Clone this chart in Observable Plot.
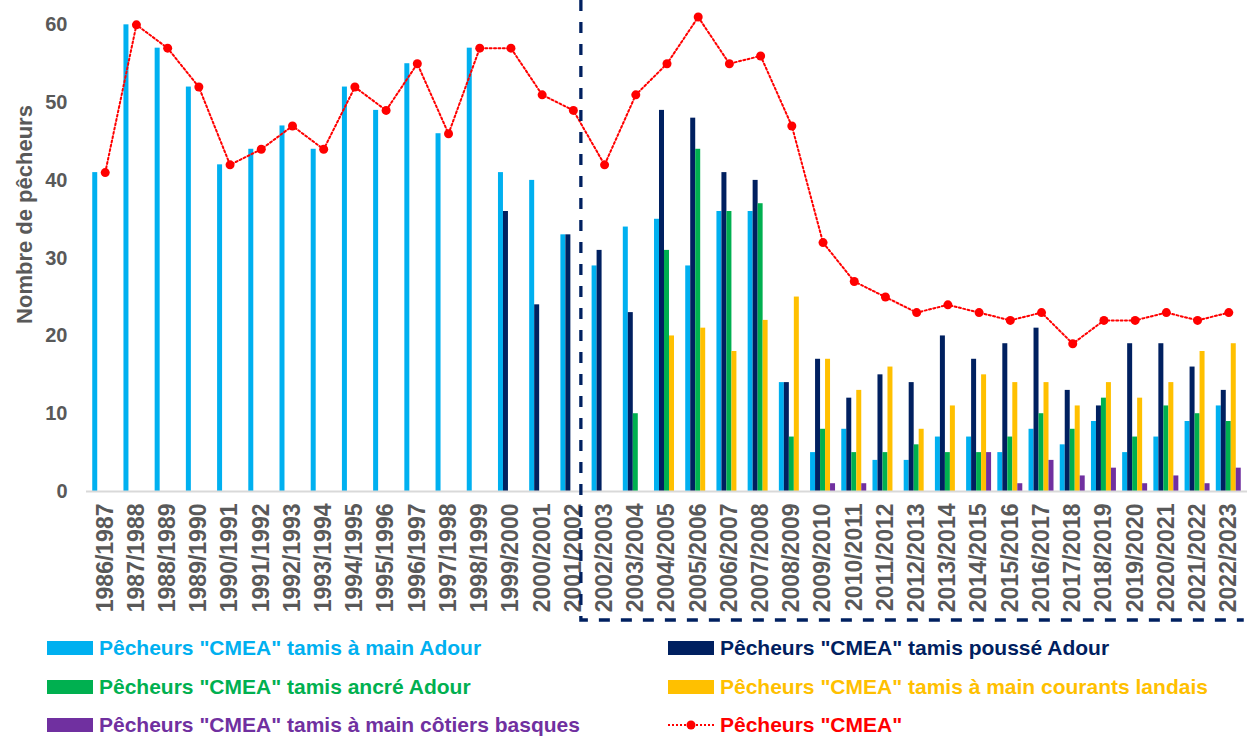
<!DOCTYPE html>
<html><head><meta charset="utf-8">
<script src="https://cdn.jsdelivr.net/npm/d3@7"></script>
<script src="https://cdn.jsdelivr.net/npm/@observablehq/plot@0.6"></script>
<style>
body{margin:0;background:#fff;}
#chart{position:relative;width:1250px;height:736px;overflow:hidden;background:#fff}
.item{position:absolute;display:flex;align-items:center;height:30px;font-family:"Liberation Sans",Arial,sans-serif;font-weight:bold;font-size:21px;white-space:nowrap;letter-spacing:0}
.sw{width:46px;height:14px;margin-right:6px;flex:none}
</style></head>
<body><div id="chart"></div>
<script>
const seasons = ["1986/1987","1987/1988","1988/1989","1989/1990","1990/1991","1991/1992","1992/1993","1993/1994","1994/1995","1995/1996","1996/1997","1997/1998","1998/1999","1999/2000","2000/2001","2001/2002","2002/2003","2003/2004","2004/2005","2005/2006","2006/2007","2007/2008","2008/2009","2009/2010","2010/2011","2011/2012","2012/2013","2013/2014","2014/2015","2015/2016","2016/2017","2017/2018","2018/2019","2019/2020","2020/2021","2021/2022","2022/2023"];
const mainAdour   = [41,60,57,52,42,44,47,44,52,49,55,46,57,41,40,33,29,34,35,29,36,36,14,5,8,4,4,7,7,5,8,6,9,5,7,9,11];
const pousseAdour = [null,null,null,null,null,null,null,null,null,null,null,null,null,36,24,33,31,23,49,48,41,40,14,17,12,15,14,20,17,19,21,13,11,19,19,16,13];
const ancreAdour  = [null,null,null,null,null,null,null,null,null,null,null,null,null,null,null,null,null,10,31,44,36,37,7,8,5,5,6,5,5,7,10,8,12,7,11,10,9];
const landais     = [null,null,null,null,null,null,null,null,null,null,null,null,null,null,null,null,null,null,20,21,18,22,25,17,13,16,8,11,15,14,14,11,14,12,14,18,19];
const basques     = [null,null,null,null,null,null,null,null,null,null,null,null,null,null,null,null,null,null,null,null,null,null,null,1,1,null,null,null,5,1,4,2,3,1,2,1,3];
const totalCMEA   = [41,60,57,52,42,44,47,44,52,49,55,46,57,57,51,49,42,51,55,61,55,56,47,32,27,25,23,24,23,22,23,19,22,22,23,22,23];
const yTicks = [0,10,20,30,40,50,60];

const seriesNames = [
  'Pêcheurs "CMEA" tamis à main Adour',
  'Pêcheurs "CMEA" tamis poussé Adour',
  'Pêcheurs "CMEA" tamis ancré Adour',
  'Pêcheurs "CMEA" tamis à main courants landais',
  'Pêcheurs "CMEA" tamis à main côtiers basques'
];
const totalName = 'Pêcheurs "CMEA"';
const seriesValues = [mainAdour, pousseAdour, ancreAdour, landais, basques];
const colors = ["#00B0F0","#002060","#00B050","#FFC000","#7030A0"];
const red = "#FF0000";

const W = 1250, H = 628, ML = 86, MR = 3, MT = 1, MB = 137, PAD = 0.2;
const rows = seasons.map((s, i) => ({season: s, total: totalCMEA[i], v: seriesValues.map(a => a[i])}));

const xScale = Plot.scale({x: {type: "band", domain: seasons, range: [ML, W - MR], padding: PAD, round: false}});
const bw = xScale.bandwidth / 5;

const barMarks = seriesValues.map((vals, k) =>
  Plot.barY(rows.filter(r => r.v[k] != null), {
    x: "season", y: r => r.v[k], fill: colors[k],
    insetLeft: k * bw, insetRight: (4 - k) * bw
  })
);

const chart = Plot.plot({
  width: W, height: H,
  marginLeft: ML, marginRight: MR, marginTop: MT, marginBottom: MB,
  style: {background: "#fff", overflow: "visible"},
  x: {type: "band", domain: seasons, padding: PAD, round: false},
  y: {domain: [0, 63]},
  marks: [
    Plot.axisY({ticks: yTicks, tickSize: 0, tickPadding: 19, fontSize: 20, fontWeight: "bold", fill: "#595959", label: null, fontFamily: "Liberation Sans"}),
    Plot.axisX({tickRotate: -90, tickSize: 0, tickPadding: 12, fontSize: 23, fontWeight: "bold", fill: "#595959", label: null, fontFamily: "Liberation Sans"}),
    ...barMarks,
    Plot.ruleY([0], {stroke: "#d9d9d9", strokeWidth: 2}),
    Plot.line(rows, {x: "season", y: "total", stroke: red, strokeWidth: 2, strokeDasharray: "2,2.4"}),
    Plot.dot(rows, {x: "season", y: "total", r: 4.5, fill: red, stroke: "none"}),
    Plot.text(["Nombre de pêcheurs"], {frameAnchor: "left", textAnchor: "middle", rotate: -90, dx: -62, dy: -32, fontSize: 22, fontWeight: "bold", fill: "#595959", fontFamily: "Liberation Sans"})
  ]
});
document.getElementById("chart").appendChild(chart);

// dashed separator (annotation) placed via the chart's own scales
const xs = chart.scale("x"), ys = chart.scale("y");
const xSep = xs.apply("2001/2002") + xs.bandwidth / 2 + 8;
const yLow = ys.apply(0) + 129;
const xEnd = xs.apply(seasons[seasons.length - 1]) + xs.bandwidth + 3;
d3.select(chart).append("path")
  .attr("d", `M${xSep},0V${yLow}H${xEnd}`)
  .attr("fill", "none").attr("stroke", "#002060").attr("stroke-width", 3.3)
  .attr("stroke-dasharray", "11,11");

// legend
const legendPos = [[47,648],[668,648],[47,687],[668,687],[47,725],[668,725]];
const holder = document.getElementById("chart");
seriesNames.forEach((name, k) => {
  const [lx, ly] = legendPos[k];
  const d = document.createElement("div");
  d.className = "item";
  d.style.left = lx + "px"; d.style.top = (ly - 15) + "px"; d.style.color = colors[k];
  d.innerHTML = `<div class="sw" style="background:${colors[k]}"></div>`;
  d.appendChild(document.createTextNode(name));
  holder.appendChild(d);
});
{
  const [lx, ly] = legendPos[5];
  const d = document.createElement("div");
  d.className = "item";
  d.style.left = lx + "px"; d.style.top = (ly - 15) + "px"; d.style.color = red;
  d.innerHTML = `<svg class="sw" width="46" height="14"><line x1="0" x2="46" y1="7" y2="7" stroke="${red}" stroke-width="2" stroke-dasharray="2,2"/><circle cx="23" cy="7" r="4.5" fill="${red}"/></svg>`;
  d.appendChild(document.createTextNode(totalName));
  holder.appendChild(d);
}
</script>
</body></html>
